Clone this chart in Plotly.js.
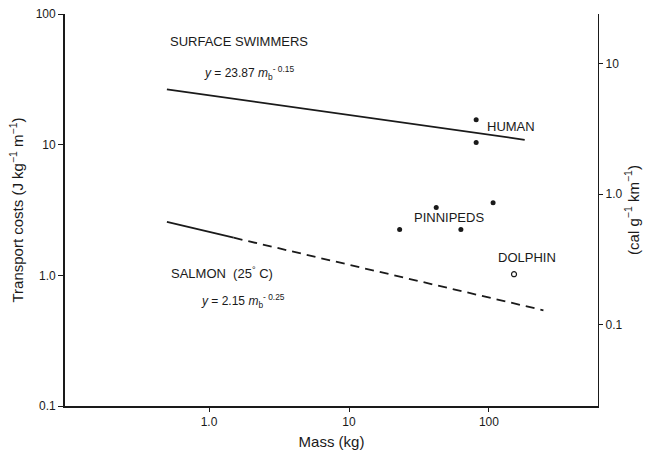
<!DOCTYPE html>
<html>
<head>
<meta charset="utf-8">
<script src="https://cdn.plot.ly/plotly-3.0.1.min.js"></script>
<style>html,body{margin:0;padding:0;background:#fff;}#chart{width:659px;height:454px;}</style>
</head>
<body>
<div id="chart"></div>
<script>
// Data (mass in kg, transport cost in J kg^-1 m^-1)
const surfaceLineMass = [0.5, 180];
const surfaceLineCost = [26.5, 10.9];
const salmonSolidMass = [0.5, 1.5];
const salmonSolidCost = [2.56, 1.94];
const salmonDashMass = [1.5, 245];
const salmonDashCost = [1.94, 0.54];
const humanMass = [81, 81];
const humanCost = [15.5, 10.4];
const pinnipedMass = [23, 42, 63, 107];
const pinnipedCost = [2.24, 3.3, 2.24, 3.6];
const dolphinMass = [151];
const dolphinCost = [1.02];

const xTickVals = [1, 10, 100];
const xTickText = ['1.0', '10', '100'];
const yTickVals = [0.1, 1, 10, 100];
const yTickText = ['0.1', '1.0', '10', '100'];
const y2TickVals = [0.1, 1, 10];
const y2TickText = ['0.1', '1.0', '10'];
const JOULES_PER_CAL = 4.184;

const ink = '#1a1a1a';
const font = 'Liberation Sans, Arial, Helvetica, sans-serif';

const traces = [
  {x: surfaceLineMass, y: surfaceLineCost, mode: 'lines', line: {color: ink, width: 1.8}},
  {x: salmonSolidMass, y: salmonSolidCost, mode: 'lines', line: {color: ink, width: 1.8}},
  {x: salmonDashMass, y: salmonDashCost, mode: 'lines', line: {color: ink, width: 1.8, dash: '9px,6px'}},
  {x: humanMass, y: humanCost, mode: 'markers', marker: {color: ink, size: 5}},
  {x: pinnipedMass, y: pinnipedCost, mode: 'markers', marker: {color: ink, size: 5}},
  {x: dolphinMass, y: dolphinCost, mode: 'markers', marker: {color: '#fff', size: 5, symbol: 'circle', line: {color: ink, width: 1.2}}},
  // invisible trace to activate right axis
  {x: [1], y: [1], yaxis: 'y2', mode: 'markers', marker: {opacity: 0}, hoverinfo: 'skip'}
];

const L = Math.log10;
const yRange = [-1, 2];
const y2Range = [yRange[0] - L(JOULES_PER_CAL), yRange[1] - L(JOULES_PER_CAL)];

function ann(text, x, y, size, extra) {
  return Object.assign({text: text, xref: 'paper', yref: 'paper', x: x, y: y, xanchor: 'left', yanchor: 'middle',
    showarrow: false, font: {family: font, size: size, color: ink}}, extra || {});
}

const layout = {
  width: 659, height: 454,
  margin: {l: 65, r: 61, t: 14, b: 48},
  paper_bgcolor: '#fff', plot_bgcolor: '#fff',
  showlegend: false,
  hovermode: false,
  font: {family: font, color: ink, size: 12},
  xaxis: {
    type: 'log', range: [-1.029, 2.779],
    tickvals: xTickVals, ticktext: xTickText,
    showgrid: false, zeroline: false, showline: true, linecolor: ink, linewidth: 1.5,
    ticks: 'outside', ticklen: 4, tickcolor: ink, tickfont: {size: 12, family: font, color: ink},
    title: {text: 'Mass (kg)', font: {size: 15, family: font, color: ink}, standoff: 8}
  },
  yaxis: {
    type: 'log', range: yRange,
    tickvals: yTickVals, ticktext: yTickText,
    showgrid: false, zeroline: false, showline: true, linecolor: ink, linewidth: 1.8,
    ticks: 'outside', ticklen: 5, tickcolor: ink, tickfont: {size: 12, family: font, color: ink},
    title: {text: 'Transport costs (J kg<sup>−1</sup> m<sup>−1</sup>)', font: {size: 15, family: font, color: ink}, standoff: 8}
  },
  yaxis2: {
    type: 'log', range: y2Range, overlaying: 'y', side: 'right',
    tickvals: y2TickVals, ticktext: y2TickText,
    showgrid: false, zeroline: false, showline: true, linecolor: ink, linewidth: 1.2,
    ticks: 'outside', ticklen: 4, tickcolor: ink, tickfont: {size: 12, family: font, color: ink},
    title: {text: '(cal g<sup>−1</sup> km<sup>−1</sup>)', font: {size: 15, family: font, color: ink}, standoff: 4}
  },
  annotations: [
    ann('SURFACE SWIMMERS', 0.193, 0.929, 13),
    ann('<i>y</i> = 23.87 <i>m</i><sub>b</sub><sup>- 0.15</sup>', 0.257, 0.85, 12),
    ann('HUMAN', 0.788, 0.712, 13),
    ann('PINNIPEDS', 0.651, 0.482, 13),
    ann('DOLPHIN', 0.809, 0.378, 13),
    ann('SALMON  (25<sup>°</sup> C)', 0.195, 0.339, 13),
    ann('<i>y</i> = 2.15 <i>m</i><sub>b</sub><sup>- 0.25</sup>', 0.252, 0.268, 12)
  ]
};

Plotly.newPlot('chart', traces, layout, {displayModeBar: false});
</script>
</body>
</html>
